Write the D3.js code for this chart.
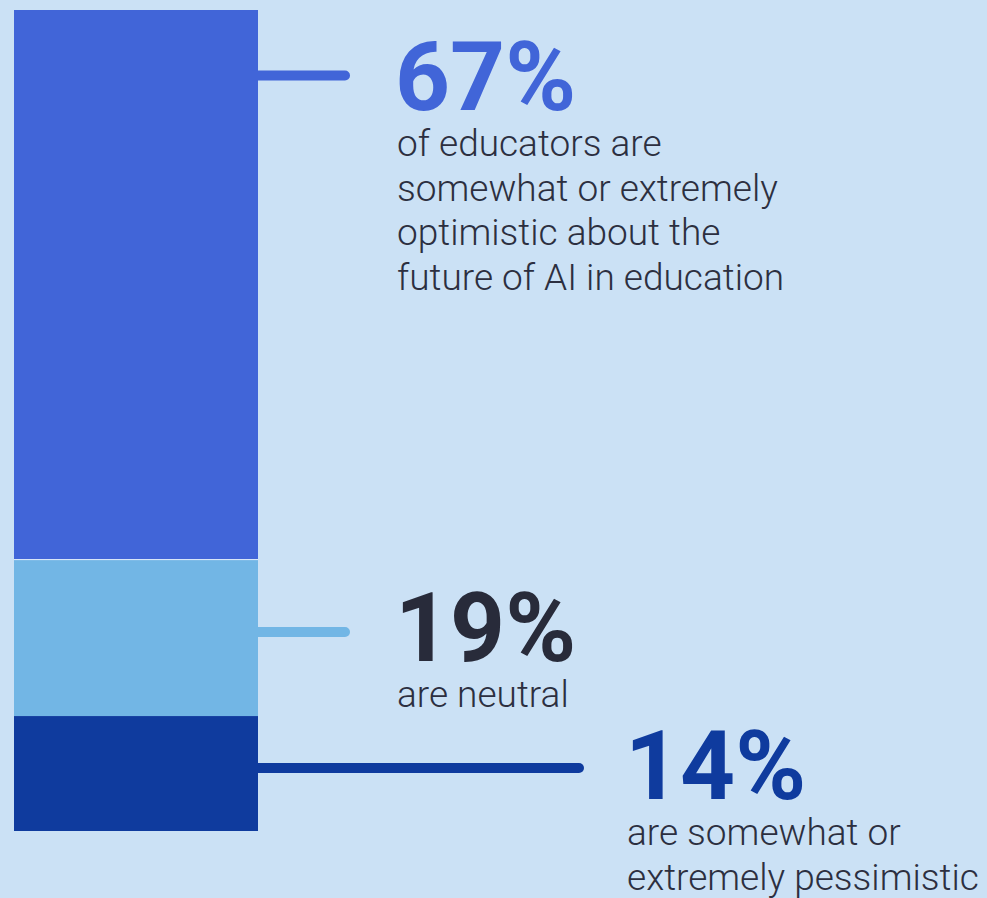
<!DOCTYPE html>
<html>
<head>
<meta charset="utf-8">
<title>Educator optimism about AI</title>
<style>
  html, body { margin: 0; padding: 0; background: #cbe1f5; }
  svg { display: block; }
  text { font-family: Roboto, "Noto Sans", sans-serif; }
  .big { font-weight: 700; font-size: 96px; }
  .desc { font-weight: 300; font-size: 37px; fill: #2c2f40; }
</style>
</head>
<body>
<svg width="987" height="898"></svg>
<script src="https://cdn.jsdelivr.net/npm/d3@7"></script>
<script>

// shares of educators, top to bottom of the bar
var labels = ["67%", "19%", "14%"];
var values = [67, 19, 14];
var notes = [
  ["of educators are", "somewhat or extremely", "optimistic about the", "future of AI in education"],
  ["are neutral"],
  ["are somewhat or", "extremely pessimistic"]
];
var colors = ["#4165d8", "#72b6e5", "#0f3b9e"];
var numColors = ["#4165d8", "#282b3a", "#0f3b9e"];

var svg = d3.select("svg");

svg.append("rect")
    .attr("width", 987).attr("height", 898)
    .attr("fill", "#cbe1f5");

var y = d3.scaleLinear().domain([0, 100]).range([10, 831]);

var stack = [];
var acc = 0;
values.forEach(function(v, i) {
  stack.push({i: i, y0: acc, y1: acc + v});
  acc += v;
});

var barX = 14, barW = 244;

svg.selectAll(".seg")
  .data(stack)
  .enter().append("rect")
    .attr("class", "seg")
    .attr("x", barX)
    .attr("y", function(d) { return y(d.y0); })
    .attr("width", barW)
    .attr("height", function(d) { return y(d.y1) - y(d.y0); })
    .attr("fill", function(d) { return colors[d.i]; });

// thin light divider under the top block
svg.append("line")
    .attr("x1", barX).attr("x2", barX + barW)
    .attr("y1", y(values[0]) - 0.5).attr("y2", y(values[0]) - 0.5)
    .attr("stroke", "#e3effa").attr("stroke-width", 1);

// where each callout sits: leader line y, line end, text x, number baseline
var callouts = [
  {lineY: 75.5, lineEnd: 345, tx: 397, base: 110},
  {lineY: 632, lineEnd: 345, tx: 397, base: 661},
  {lineY: 768, lineEnd: 579, tx: 627, base: 799}
];

callouts.forEach(function(c, i) {
  svg.append("line")
      .attr("x1", barX + barW).attr("x2", c.lineEnd)
      .attr("y1", c.lineY).attr("y2", c.lineY)
      .attr("stroke", colors[i])
      .attr("stroke-width", 10)
      .attr("stroke-linecap", "round");

  svg.append("line")
      .attr("x1", barX + barW - 6).attr("x2", barX + barW)
      .attr("y1", c.lineY).attr("y2", c.lineY)
      .attr("stroke", colors[i]).attr("stroke-width", 10);

  svg.append("text")
      .attr("class", "big")
      .attr("x", c.tx - 2)
      .attr("y", c.base)
      .attr("fill", numColors[i])
      .text(labels[i]);

  svg.append("text")
      .attr("class", "desc")
      .selectAll("tspan")
      .data(notes[i])
      .enter().append("tspan")
        .attr("x", c.tx)
        .attr("y", function(d, j) { return c.base + 46 + j * 44.7; })
        .text(function(d) { return d; });
});

</script>
</body>
</html>
